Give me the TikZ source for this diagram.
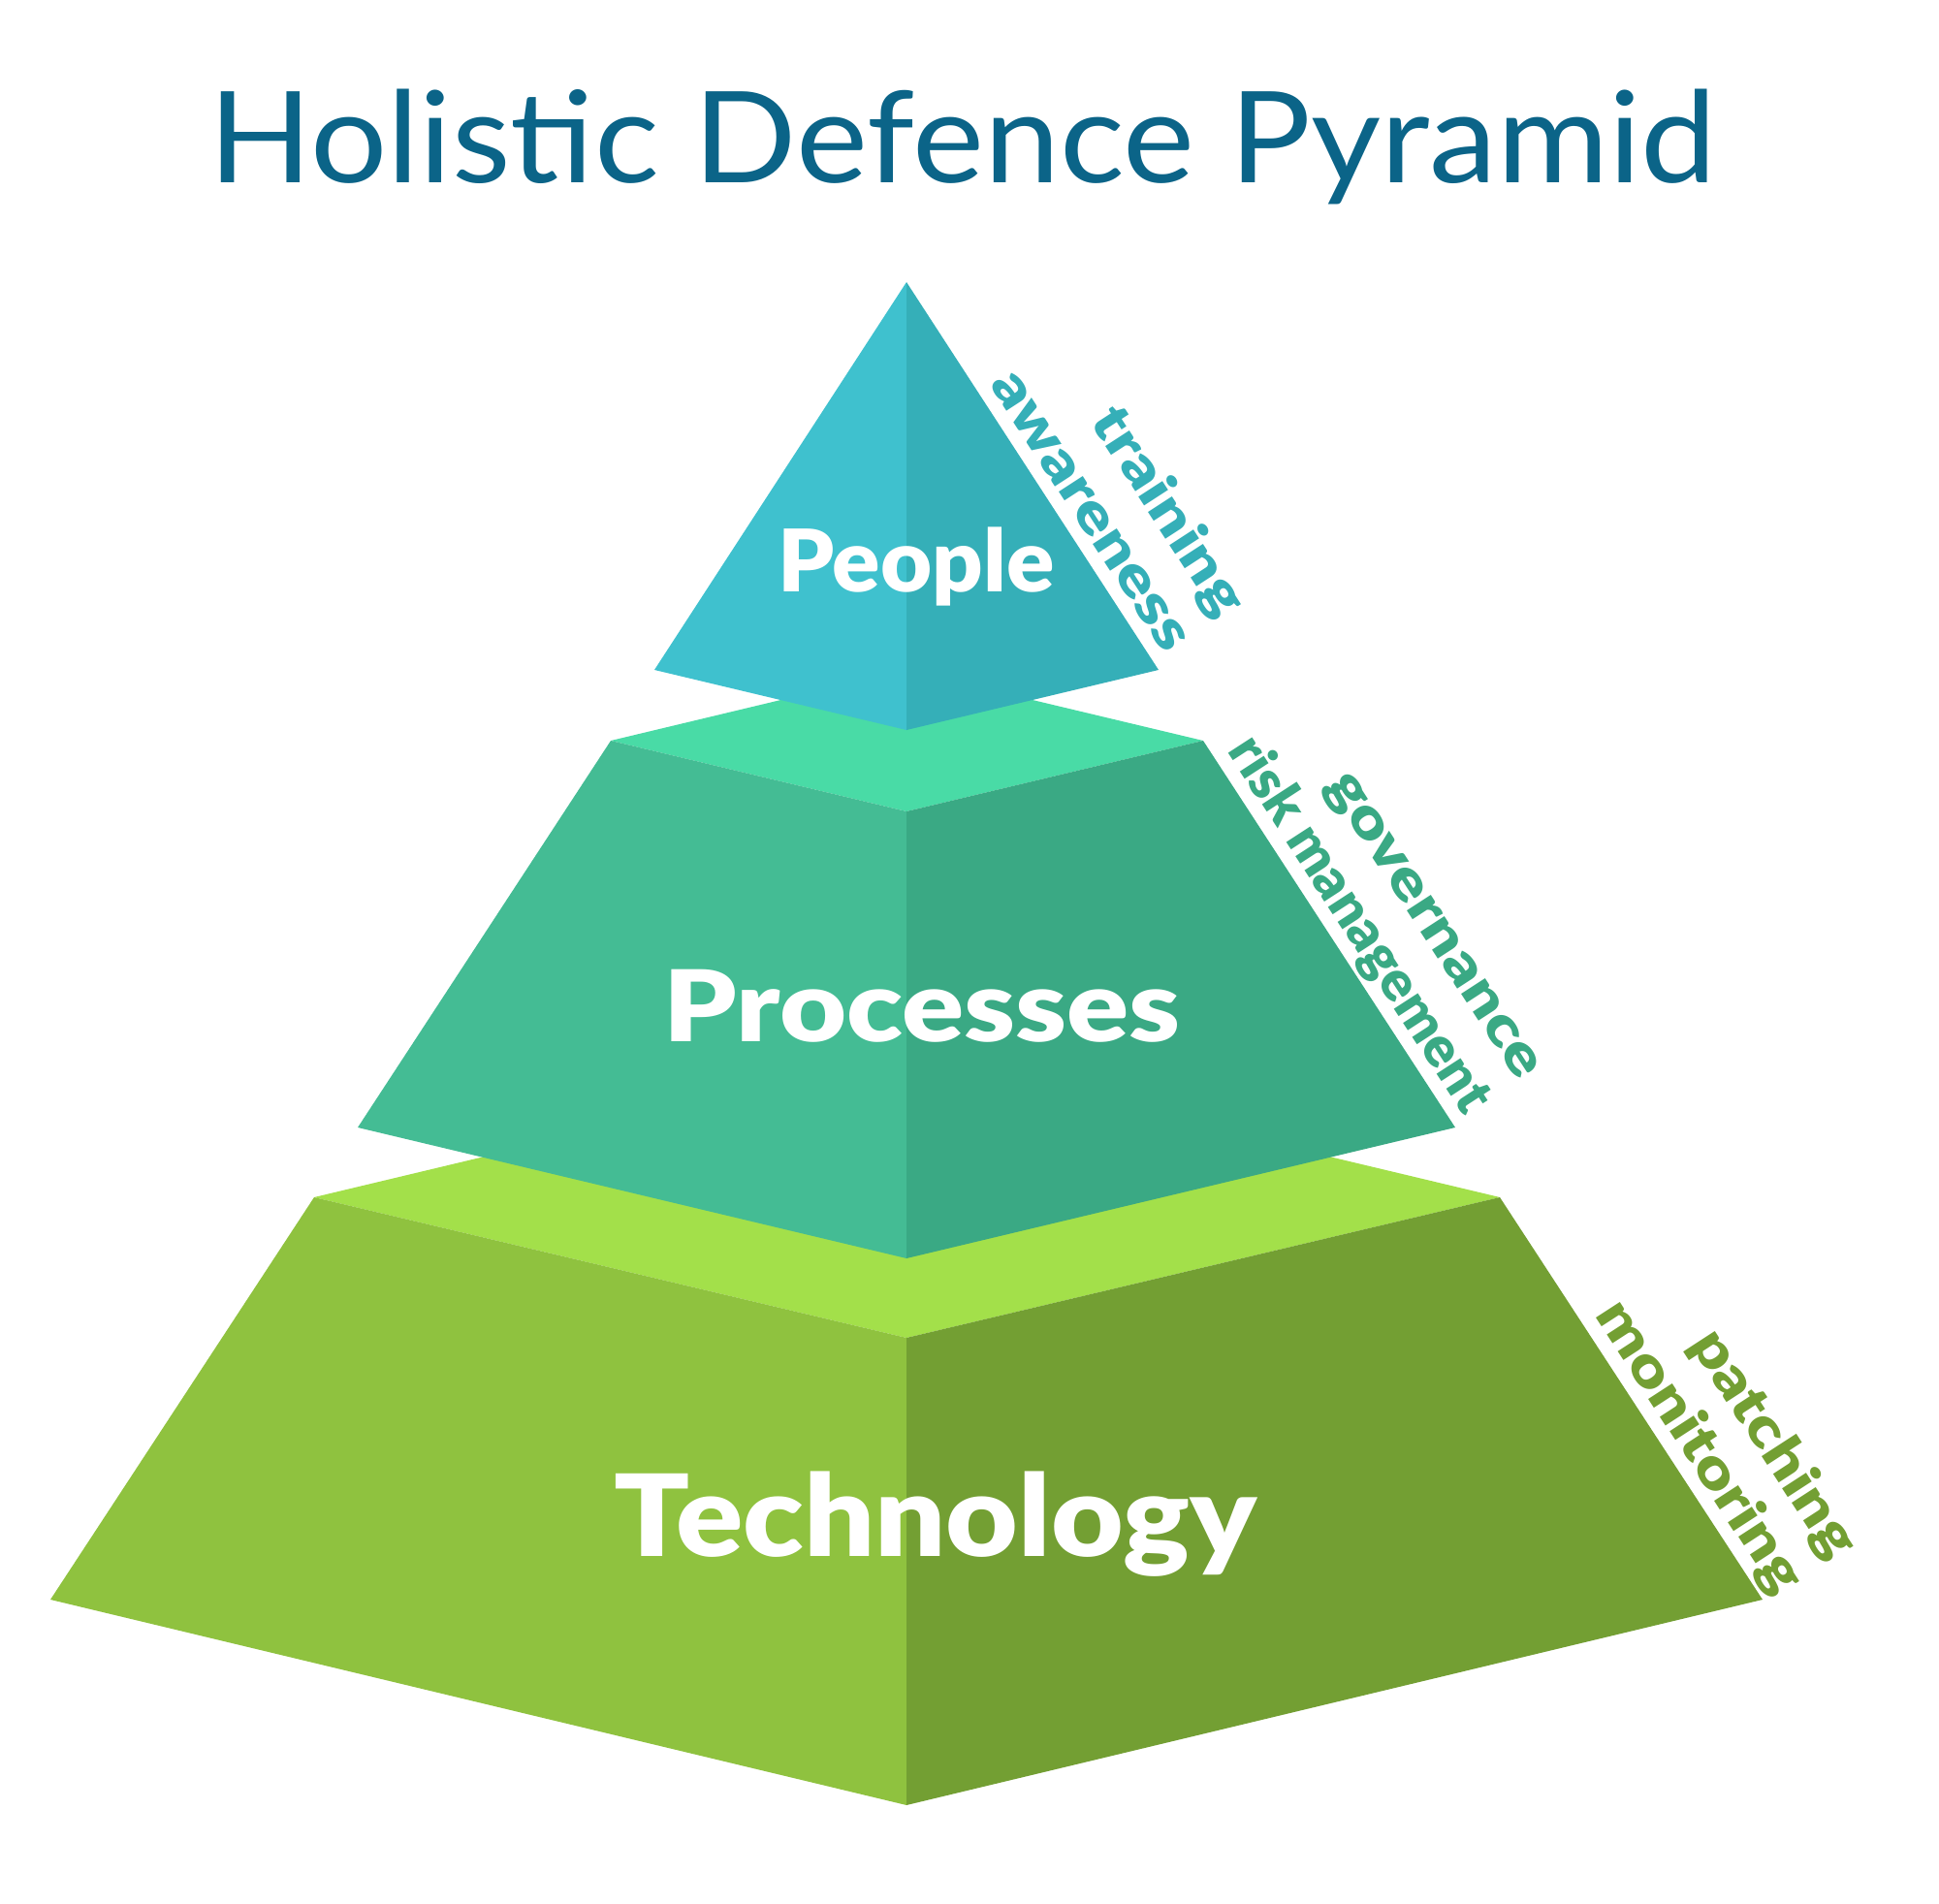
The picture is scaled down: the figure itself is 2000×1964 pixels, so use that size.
\documentclass[tikz,border=0pt]{standalone}
\usepackage{fontspec}
\setmainfont{Lato}
\newfontfamily\heavyfont{Lato Black}
\usetikzlibrary{calc}
\definecolor{titleblue}{HTML}{0B6488}
\definecolor{peopleL}{HTML}{3FC1CE}
\definecolor{peopleR}{HTML}{35AFB8}
\definecolor{procTop}{HTML}{49DBA6}
\definecolor{procL}{HTML}{44BC94}
\definecolor{procR}{HTML}{3AA984}
\definecolor{techTop}{HTML}{A3E04A}
\definecolor{techL}{HTML}{8FC23F}
\definecolor{techR}{HTML}{739F33}
\newcommand{\hs}[2]{\scalebox{#1}[1]{#2}}
\begin{document}
\begin{tikzpicture}[x=1pt,y=1pt,
  layerlabel/.style={text=white,inner sep=0,anchor=base},
  sidelabel/.style={font=\heavyfont\fontsize{57}{57}\selectfont,rotate=-57,anchor=base east,inner sep=0}]
\useasboundingbox[fill=white] (0,0) rectangle (2000,-1964);
% technology layer
\coordinate (tTL) at (324,-1235);
\coordinate (tBack) at (935,-1089);
\coordinate (tTR) at (1547,-1235);
\coordinate (tFront) at (935,-1380);
\coordinate (tBL) at (52,-1650);
\coordinate (tBR) at (1818,-1650);
\coordinate (tBot) at (935,-1862);
% processes layer
\coordinate (pTL) at (630,-764);
\coordinate (pBack) at (935,-691);
\coordinate (pTR) at (1241,-764);
\coordinate (pFront) at (935,-837);
\coordinate (pBL) at (369,-1163);
\coordinate (pBR) at (1501,-1163);
\coordinate (pBot) at (935,-1298);
% people layer
\coordinate (apex) at (935,-291);
\coordinate (ppL) at (675,-691);
\coordinate (ppR) at (1195,-691);
\coordinate (ppBot) at (935,-753);

\fill[techTop] (tTL) -- (tBack) -- (tTR) -- (tFront) -- cycle;
\fill[techL] (tTL) -- (tFront) -- (tBot) -- (tBL) -- cycle;
\fill[techR] (tFront) -- (tTR) -- (tBR) -- (tBot) -- cycle;

\fill[procTop] (pTL) -- (pBack) -- (pTR) -- (pFront) -- cycle;
\fill[procL] (pTL) -- (pFront) -- (pBot) -- (pBL) -- cycle;
\fill[procR] (pFront) -- (pTR) -- (pBR) -- (pBot) -- cycle;

\fill[peopleL] (apex) -- (ppL) -- (ppBot) -- cycle;
\fill[peopleR] (apex) -- (ppBot) -- (ppR) -- cycle;

\node[anchor=base,inner sep=0,text=titleblue,font=\fontsize{131}{131}\selectfont] (title) at (993,-189) {\hs{1.068}{Holistic Defence Pyramid}};

\node[layerlabel,font=\heavyfont\fontsize{89}{89}\selectfont] (people) at (945,-610) {\hs{1.03}{People}};
\node[layerlabel,font=\heavyfont\fontsize{102}{102}\selectfont] (processes) at (951,-1074) {\hs{1.167}{Processes}};
\node[layerlabel,font=\heavyfont\fontsize{117}{117}\selectfont] (technology) at (965,-1605) {\hs{1.10}{Technology}};

\node[sidelabel,text=peopleR] (awareness) at ($(ppR)+(-57:-9)+(33:14)$) {\hs{1.23}{awareness}};
\node[sidelabel,text=peopleR] (training) at ($(ppR)+(-57:-9)+(33:80)$) {\hs{1.23}{training}};
\node[sidelabel,text=procR] (risk) at ($(pBR)+(-57:-4)+(33:14)$) {\hs{1.02}{risk management}};
\node[sidelabel,text=procR] (governance) at ($(pBR)+(-57:-4)+(33:80)$) {\hs{1.23}{governance}};
\node[sidelabel,text=techR] (monitoring) at ($(tBR)+(-57:6)+(33:14)$) {\hs{1.22}{monitoring}};
\node[sidelabel,text=techR] (patching) at ($(tBR)+(-57:6)+(33:80)$) {\hs{1.21}{patching}};
\end{tikzpicture}
\end{document}
